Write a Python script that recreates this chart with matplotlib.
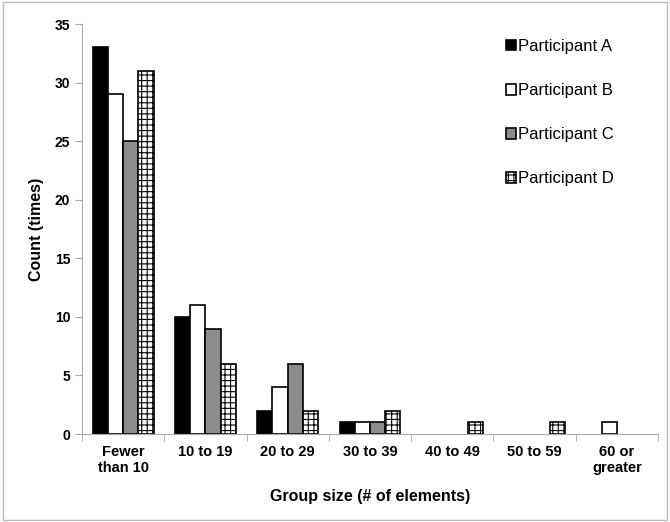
import matplotlib
matplotlib.use("Agg")
import matplotlib.pyplot as plt
import numpy as np

plt.rcParams['font.family'] = ['Liberation Sans', 'DejaVu Sans']
plt.rcParams['hatch.linewidth'] = 0.8

categories = ["Fewer\nthan 10", "10 to 19", "20 to 29", "30 to 39", "40 to 49", "50 to 59", "60 or\ngreater"]
series_names = ["Participant A", "Participant B", "Participant C", "Participant D"]
participant_a = [33, 10, 2, 1, 0, 0, 0]
participant_b = [29, 11, 4, 1, 0, 0, 1]
participant_c = [25, 9, 6, 1, 0, 0, 0]
participant_d = [31, 6, 2, 2, 1, 1, 0]
yticks = [0, 5, 10, 15, 20, 25, 30, 35]

fig = plt.figure(figsize=(6.7, 5.22), dpi=100)
ax = fig.add_axes([82/670, 88/522, 576/670, 410/522])

styles = [
    dict(facecolor="black", edgecolor="black", hatch=None),
    dict(facecolor="white", edgecolor="black", hatch=None),
    dict(facecolor="#8c8c8c", edgecolor="black", hatch=None),
    dict(facecolor="white", edgecolor="black", hatch="+++"),
]
data = [participant_a, participant_b, participant_c, participant_d]
x = np.arange(len(categories))
w = 0.185
for i, (vals, st, name) in enumerate(zip(data, styles, series_names)):
    bars = ax.bar(x + (i - 1.5) * w, vals, w, label=name, linewidth=1.2, **st)
    for b, v in zip(bars, vals):
        if v == 0:
            b.set_visible(False)

ax.set_xlim(-0.5, len(categories) - 0.5)
ax.set_ylim(0, 35)
ax.set_yticks(yticks)
ax.set_yticklabels([str(t) for t in yticks], fontweight="bold", fontsize=10)
ax.set_xticks(x)
ax.set_xticklabels(categories, fontweight="bold", fontsize=10.5)
ax.tick_params(axis="x", length=0, pad=8)
ax.set_xticks(np.arange(len(categories) + 1) - 0.5, minor=True)
ax.tick_params(axis="x", which="minor", length=5, color="#aaaaaa", direction="out")
ax.tick_params(axis="y", length=5, color="#aaaaaa", direction="out")

for s in ["top", "right"]:
    ax.spines[s].set_visible(False)
for s in ["left", "bottom"]:
    ax.spines[s].set_color("#aaaaaa")

ax.set_xlabel("Group size (# of elements)", fontweight="bold", fontsize=11.5, labelpad=10)
ax.set_ylabel("Count (times)", fontweight="bold", fontsize=11.5, labelpad=8)

leg = ax.legend(loc="upper left", bbox_to_anchor=(0.71, 1.0), frameon=False,
                fontsize=12, handlelength=0.6, handleheight=0.6, handletextpad=0.15,
                labelspacing=1.75)

border = plt.Rectangle((0.004, 0.004), 0.992, 0.992, transform=fig.transFigure,
                       fill=False, edgecolor="#bbbbbb", linewidth=1)
fig.patches.append(border)

fig.savefig("out.png", dpi=100)
